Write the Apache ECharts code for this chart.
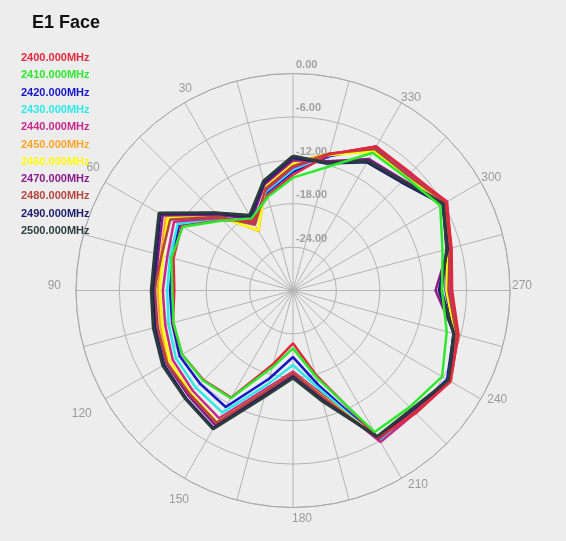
<!DOCTYPE html>
<html>
<head>
<meta charset="utf-8">
<script src="https://cdn.jsdelivr.net/npm/echarts@6/dist/echarts.min.js"></script>
<style>
html,body{margin:0;padding:0;background:#ededed;}
#chart{width:566px;height:541px;}
</style>
</head>
<body>
<div id="chart"></div>
<script>
// Angles (degrees, counter-clockwise from top)
const angles = [0,15,30,45,60,75,90,105,120,135,150,165,180,195,210,225,240,255,270,285,300,315,330,345];

const frequencies = ['2400.000MHz','2410.000MHz','2420.000MHz','2430.000MHz','2440.000MHz','2450.000MHz','2460.000MHz','2470.000MHz','2480.000MHz','2490.000MHz','2500.000MHz'];
const colors = ['#e2283c','#2ee82e','#1414c8','#2ee8e8','#c8288a','#ffa528','#ffff10','#8a1a8a','#b4443a','#1c1c6c','#2c3c3c'];
const lineWidths = [2.5,2.5,2.5,2.5,2.5,2.5,2.5,2.5,2.5,3,3];

// Gain values (dB) at each angle
const g2400 = [-14.0,-16.4,-18.8,-16.2,-12.2,-12.9,-13.6,-12.8,-12.3,-12.5,-12.9,-19.5,-22.7,-18.0,-6.5,-6.0,-4.9,-6.3,-8.0,-7.3,-5.5,-7.0,-7.0,-10.5];
const g2410 = [-14.4,-16.6,-18.5,-16.3,-12.4,-12.6,-13.3,-12.9,-12.3,-12.4,-12.8,-19.0,-22.0,-17.6,-7.4,-7.2,-6.2,-8.0,-9.4,-8.6,-6.5,-7.9,-8.0,-12.4];
const g2420 = [-13.6,-16.0,-19.0,-16.1,-11.8,-12.8,-13.0,-12.7,-11.9,-11.8,-11.4,-17.4,-20.8,-16.5,-6.3,-6.5,-5.4,-7.0,-8.9,-8.0,-6.0,-7.5,-7.1,-10.8];
const g2430 = [-13.3,-15.8,-19.0,-16.0,-11.6,-12.4,-12.6,-12.2,-11.3,-11.0,-10.5,-16.6,-19.7,-15.9,-6.1,-6.3,-5.2,-6.8,-8.6,-7.8,-5.8,-7.3,-7.0,-10.6];
const g2440 = [-13.0,-15.6,-19.2,-15.8,-11.0,-12.0,-12.0,-11.7,-10.8,-10.4,-9.6,-16.0,-18.8,-15.3,-5.8,-6.1,-4.8,-6.4,-8.2,-7.4,-5.4,-7.2,-7.0,-10.5];
const g2450 = [-12.3,-15.0,-20.5,-15.3,-9.7,-11.1,-11.3,-11.0,-10.0,-9.6,-8.6,-15.4,-18.4,-14.8,-6.5,-6.3,-4.8,-6.6,-8.6,-7.7,-5.6,-7.6,-7.6,-10.4];
const g2460 = [-12.5,-15.2,-20.4,-15.5,-10.0,-11.4,-11.6,-11.3,-10.4,-10.0,-9.0,-15.6,-18.6,-15.0,-6.6,-6.4,-5.0,-6.8,-8.8,-7.9,-5.8,-7.7,-7.8,-10.6];
const g2470 = [-12.0,-14.8,-18.6,-15.2,-9.2,-10.7,-10.9,-10.6,-9.8,-9.5,-8.5,-15.3,-18.3,-14.6,-6.3,-6.5,-5.0,-6.9,-10.3,-7.8,-5.9,-8.4,-9.0,-11.5];
const g2480 = [-12.8,-15.4,-19.5,-15.6,-10.4,-11.2,-10.8,-10.5,-9.9,-9.8,-8.9,-15.6,-18.6,-14.9,-6.4,-6.2,-4.9,-6.6,-8.5,-7.6,-5.7,-7.5,-7.4,-10.4];
const g2490 = [-11.6,-14.5,-18.2,-14.9,-8.8,-10.4,-10.6,-10.2,-9.4,-9.0,-8.0,-15.0,-18.0,-14.3,-6.6,-6.7,-5.1,-7.0,-9.8,-7.9,-6.1,-8.8,-9.5,-11.8];
const g2500 = [-11.4,-14.3,-18.0,-14.8,-8.6,-10.2,-10.4,-10.0,-9.2,-8.9,-7.9,-14.8,-17.9,-14.1,-6.7,-6.8,-5.2,-7.0,-9.5,-8.0,-6.0,-8.6,-9.3,-11.7];

const gains = [g2400,g2410,g2420,g2430,g2440,g2450,g2460,g2470,g2480,g2490,g2500];

// Per-label padding [top, right, bottom, left] (px) to mimic the original label placement
const angleLabelPadding = {
  30: [0, 1, 23, 0], 60: [0, 20, 17, 0], 90: [0, 32, 9, 0], 120: [17, 28, 0, 0],
  150: [30, 4, 0, 0], 180: [22, 0, 0, 18], 210: [15, 0, 0, 15], 240: [3, 0, 0, 21],
  270: [0, 0, 9, 19], 300: [0, 0, 7, 15], 330: [0, 0, 14, 8]
};
const angleRich = {};
Object.keys(angleLabelPadding).forEach(k => {
  angleRich['a' + k] = {
    color: '#9a9a9a',
    fontFamily: 'Liberation Sans, Arial, sans-serif',
    fontSize: 12,
    padding: angleLabelPadding[k]
  };
});

const series = frequencies.map((name, k) => {
  const vals = gains[k];
  const data = angles.map((a, i) => [vals[i], a]);
  data.push([vals[0], 360]);
  return {
    name: name,
    type: 'line',
    coordinateSystem: 'polar',
    data: data,
    showSymbol: false,
    symbol: 'none',
    smooth: false,
    lineStyle: { color: colors[k], width: lineWidths[k] },
    itemStyle: { color: colors[k] },
    z: 2 + (k === 1 ? 11 : (k === 0 ? 10 : k))
  };
});

const chart = echarts.init(document.getElementById('chart'), null, { renderer: 'canvas' });
chart.setOption({
  backgroundColor: '#ededed',
  animation: false,
  title: {
    text: 'E1 Face',
    left: 27,
    top: 9,
    textStyle: { fontFamily: 'Liberation Sans, Arial, sans-serif', fontSize: 18, fontWeight: 'bold', color: '#111' }
  },
  legend: {
    orient: 'vertical',
    left: 11,
    top: 47,
    itemWidth: 0,
    itemHeight: 12,
    itemGap: 5.3,
    icon: 'none',
    selectedMode: false,
    data: frequencies.map((n, k) => ({ name: n, textStyle: { color: colors[k] } })),
    textStyle: { fontFamily: 'Liberation Sans, Arial, sans-serif', fontSize: 11, fontWeight: 'bold', lineHeight: 12 }
  },
  polar: { center: [293, 290.5], radius: 217 },
  angleAxis: {
    type: 'value',
    min: 0,
    max: 360,
    interval: 15,
    startAngle: 90,
    clockwise: false,
    axisLine: { show: true, lineStyle: { color: '#aaaaaa', width: 1 } },
    axisTick: { show: false },
    splitLine: { show: true, lineStyle: { color: '#b4b4b4', width: 1 } },
    axisLabel: {
      margin: -17,
      color: '#9a9a9a',
      fontFamily: 'Liberation Sans, Arial, sans-serif',
      fontSize: 12,
      rich: angleRich,
      formatter: v => (v % 30 === 0 && v !== 0 && v !== 360) ? '{a' + v + '|' + v + '}' : ''
    }
  },
  radiusAxis: {
    type: 'value',
    min: -30,
    max: 0,
    interval: 6,
    axisLine: { show: false },
    axisTick: { show: false },
    splitLine: { show: true, lineStyle: { color: '#b4b4b4', width: 1 } },
    axisLabel: {
      inside: true,
      margin: 2,
      align: 'left',
      verticalAlign: 'bottom',
      padding: [0, 0, 3, 5],
      color: '#a0a0a0',
      fontFamily: 'Liberation Sans, Arial, sans-serif',
      fontSize: 11,
      fontWeight: 'bold',
      formatter: v => v === -30 ? '' : v.toFixed(2)
    }
  },
  series: series
});
</script>
</body>
</html>
